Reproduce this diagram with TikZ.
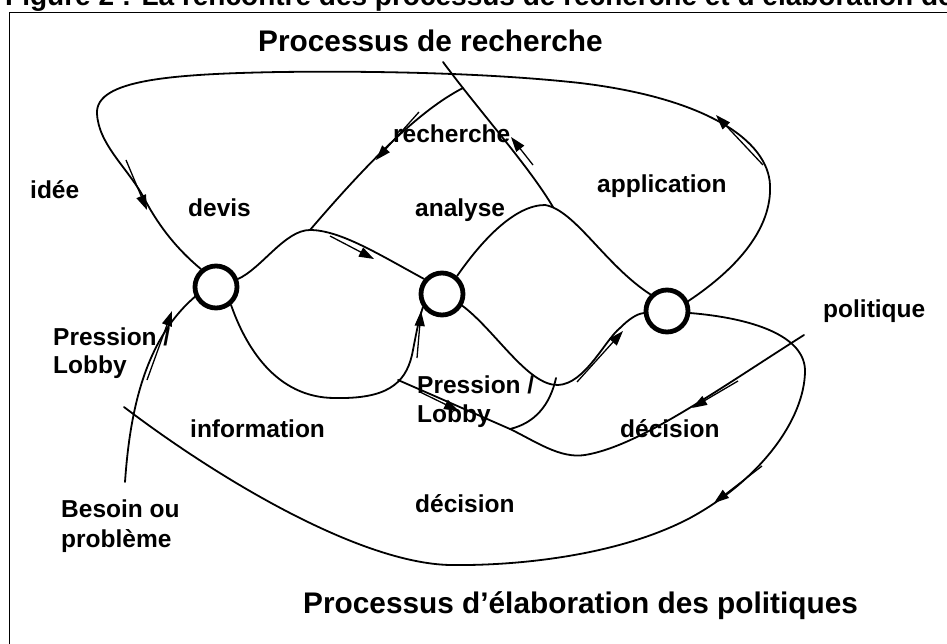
\documentclass[tikz,border=0pt]{standalone}
\usepackage{fontspec}
\setmainfont{Liberation Sans}
\usetikzlibrary{arrows.meta}

\begin{document}
\begin{tikzpicture}[x=1pt,y=-1pt,
  curve/.style={line width=1.8pt, line cap=round, line join=round},
  ring/.style={circle, draw, line width=4.8pt, minimum size=42pt, inner sep=0pt},
  flow/.style={line width=1.3pt, -{Triangle[length=15pt,width=10pt]}},
  lbl/.style={font=\fontsize{24.5}{28}\selectfont\bfseries, inner sep=0pt, anchor=base west},
  ttl/.style={font=\fontsize{29.8}{34}\selectfont\bfseries, inner sep=0pt, anchor=base west},
]
\clip (0,0) rectangle (947,644);
\useasboundingbox (0,0) rectangle (947,644);
\fill[white] (0,0) rectangle (947,644);

% caption, cut by the top of the page, and the frame
\node[font=\fontsize{28}{32}\selectfont\bfseries, inner sep=0pt, anchor=base west] (cap) at (5,6)
  {Figure 2 : La rencontre des processus de recherche et d’élaboration des politiques};
\coordinate (frbl) at (9.5,650);
\coordinate (frtl) at (9.5,12.5);
\coordinate (frtr) at (950,12.5);
\draw[line width=1.6pt] (frbl) -- (frtl) -- (frtr);

% meeting points of the two processes
\node[ring] (c1) at (216,287) {};
\node[ring] (c2) at (442,294) {};
\node[ring] (c3) at (667,311) {};

% named points of the curves
\coordinate (pkA) at (310,230);
\coordinate (pkC) at (545,205);
\coordinate (rend) at (553,207);
\coordinate (jn) at (510,429);
\coordinate (lob) at (398,380);
\coordinate (tk) at (556,378);
\coordinate (pol) at (804,335);
\coordinate (r1) at (443,62);
\coordinate (rx) at (463,88);
\coordinate (bes) at (125,482);
\coordinate (lend) at (124,407);

% braid between the circles
\draw[curve] (c1.20) .. controls (262,268) and (285,230) .. (pkA)
  .. controls (340,230) and (380,255) .. (c2.140);
\draw[curve] (c1.-50) .. controls (245,345) and (275,398) .. (335,398)
  .. controls (385,399) and (405,385) .. (412,355)
  .. controls (416,335) and (418,322) .. (c2.-145);
\draw[curve] (c2.50) .. controls (482,240) and (515,205) .. (pkC)
  .. controls (575,210) and (605,265) .. (c3.135);
\draw[curve] (c2.-30) .. controls (495,330) and (528,386) .. (558,385)
  .. controls (585,384) and (605,340) .. (620,328)
  .. controls (628,320) and (636,314) .. (c3.185);

% research loop over the top
\draw[curve] (c3.25) .. controls (738,268) and (772,228) .. (770,185)
  .. controls (768,140) and (705,98) .. (580,83)
  .. controls (480,72) and (360,71) .. (280,72)
  .. controls (170,74) and (96,80) .. (97,113)
  .. controls (98,145) and (130,170) .. (145,200)
  .. controls (160,228) and (178,250) .. (c1.130);

% policy loop under the bottom
\draw[curve] (c3.-5) .. controls (750,318) and (806,335) .. (805,372)
  .. controls (804,420) and (760,480) .. (690,518)
  .. controls (620,555) and (520,566) .. (450,565)
  .. controls (360,563) and (220,480) .. (lend);

% need or problem
\draw[curve] (bes) .. controls (130,410) and (145,340) .. (c1.-155);

% pressure / lobby and decision
\draw[curve] (lob) -- (jn);
\draw[curve] (jn) .. controls (535,423) and (550,405) .. (tk);
\draw[curve] (pol) .. controls (720,388) and (640,446) .. (585,455)
  .. controls (560,459) and (535,441) .. (jn);

% research branches
\draw[curve] (r1) .. controls (480,112) and (528,165) .. (rend);
\draw[curve] (rx) .. controls (420,110) and (370,160) .. (pkA);

% direction arrows beside the curves
\coordinate (a1s) at (126,160);  \coordinate (a1e) at (147,210);
\coordinate (a2s) at (763,165);  \coordinate (a2e) at (716,115);
\coordinate (a3s) at (533,165);  \coordinate (a3e) at (511,137);
\coordinate (a4s) at (419,112);  \coordinate (a4e) at (376,160);
\coordinate (a5s) at (330,236);  \coordinate (a5e) at (374,259);
\coordinate (a6s) at (417,358);  \coordinate (a6e) at (421,311);
\coordinate (a7s) at (147,380);  \coordinate (a7e) at (172,311);
\coordinate (a8s) at (420,392);  \coordinate (a8e) at (459,411);
\coordinate (a9s) at (577,382);  \coordinate (a9e) at (623,331);
\coordinate (a10s) at (738,381); \coordinate (a10e) at (692,408);
\coordinate (a11s) at (762,466); \coordinate (a11e) at (714,503);
\foreach \i in {1,...,11} \draw[flow] (a\i s) -- (a\i e);

% labels
\node[lbl] (lidee) at (30,199) {idée};
\node[lbl] (ldevis) at (188,217) {devis};
\node[lbl] (lrech) at (393,143) {recherche};
\node[lbl] (lanal) at (415,217) {analyse};
\node[lbl] (lappl) at (597,193) {application};
\node[lbl] (lpol) at (823,317) {politique};
\node[lbl] (lpl1) at (53,345) {\begin{tabular}[t]{@{}l@{}}Pression /\\Lobby\end{tabular}};
\node[lbl] (linfo) at (190,437) {information};
\node[lbl] (lbes) at (61,517) {\begin{tabular}[t]{@{}l@{}}Besoin ou\\[2pt]problème\end{tabular}};
\node[lbl] (lpl2) at (417,393) {\begin{tabular}[t]{@{}l@{}}Pression /\\[1pt]Lobby\end{tabular}};
\node[lbl] (ldec1) at (620,437) {décision};
\node[lbl] (ldec2) at (415,512) {décision};

% titles
\node[ttl] (t1) at (258,52) {Processus de recherche};
\node[ttl] (t2) at (303,613) {Processus d’élaboration des politiques};
\end{tikzpicture}
\end{document}
